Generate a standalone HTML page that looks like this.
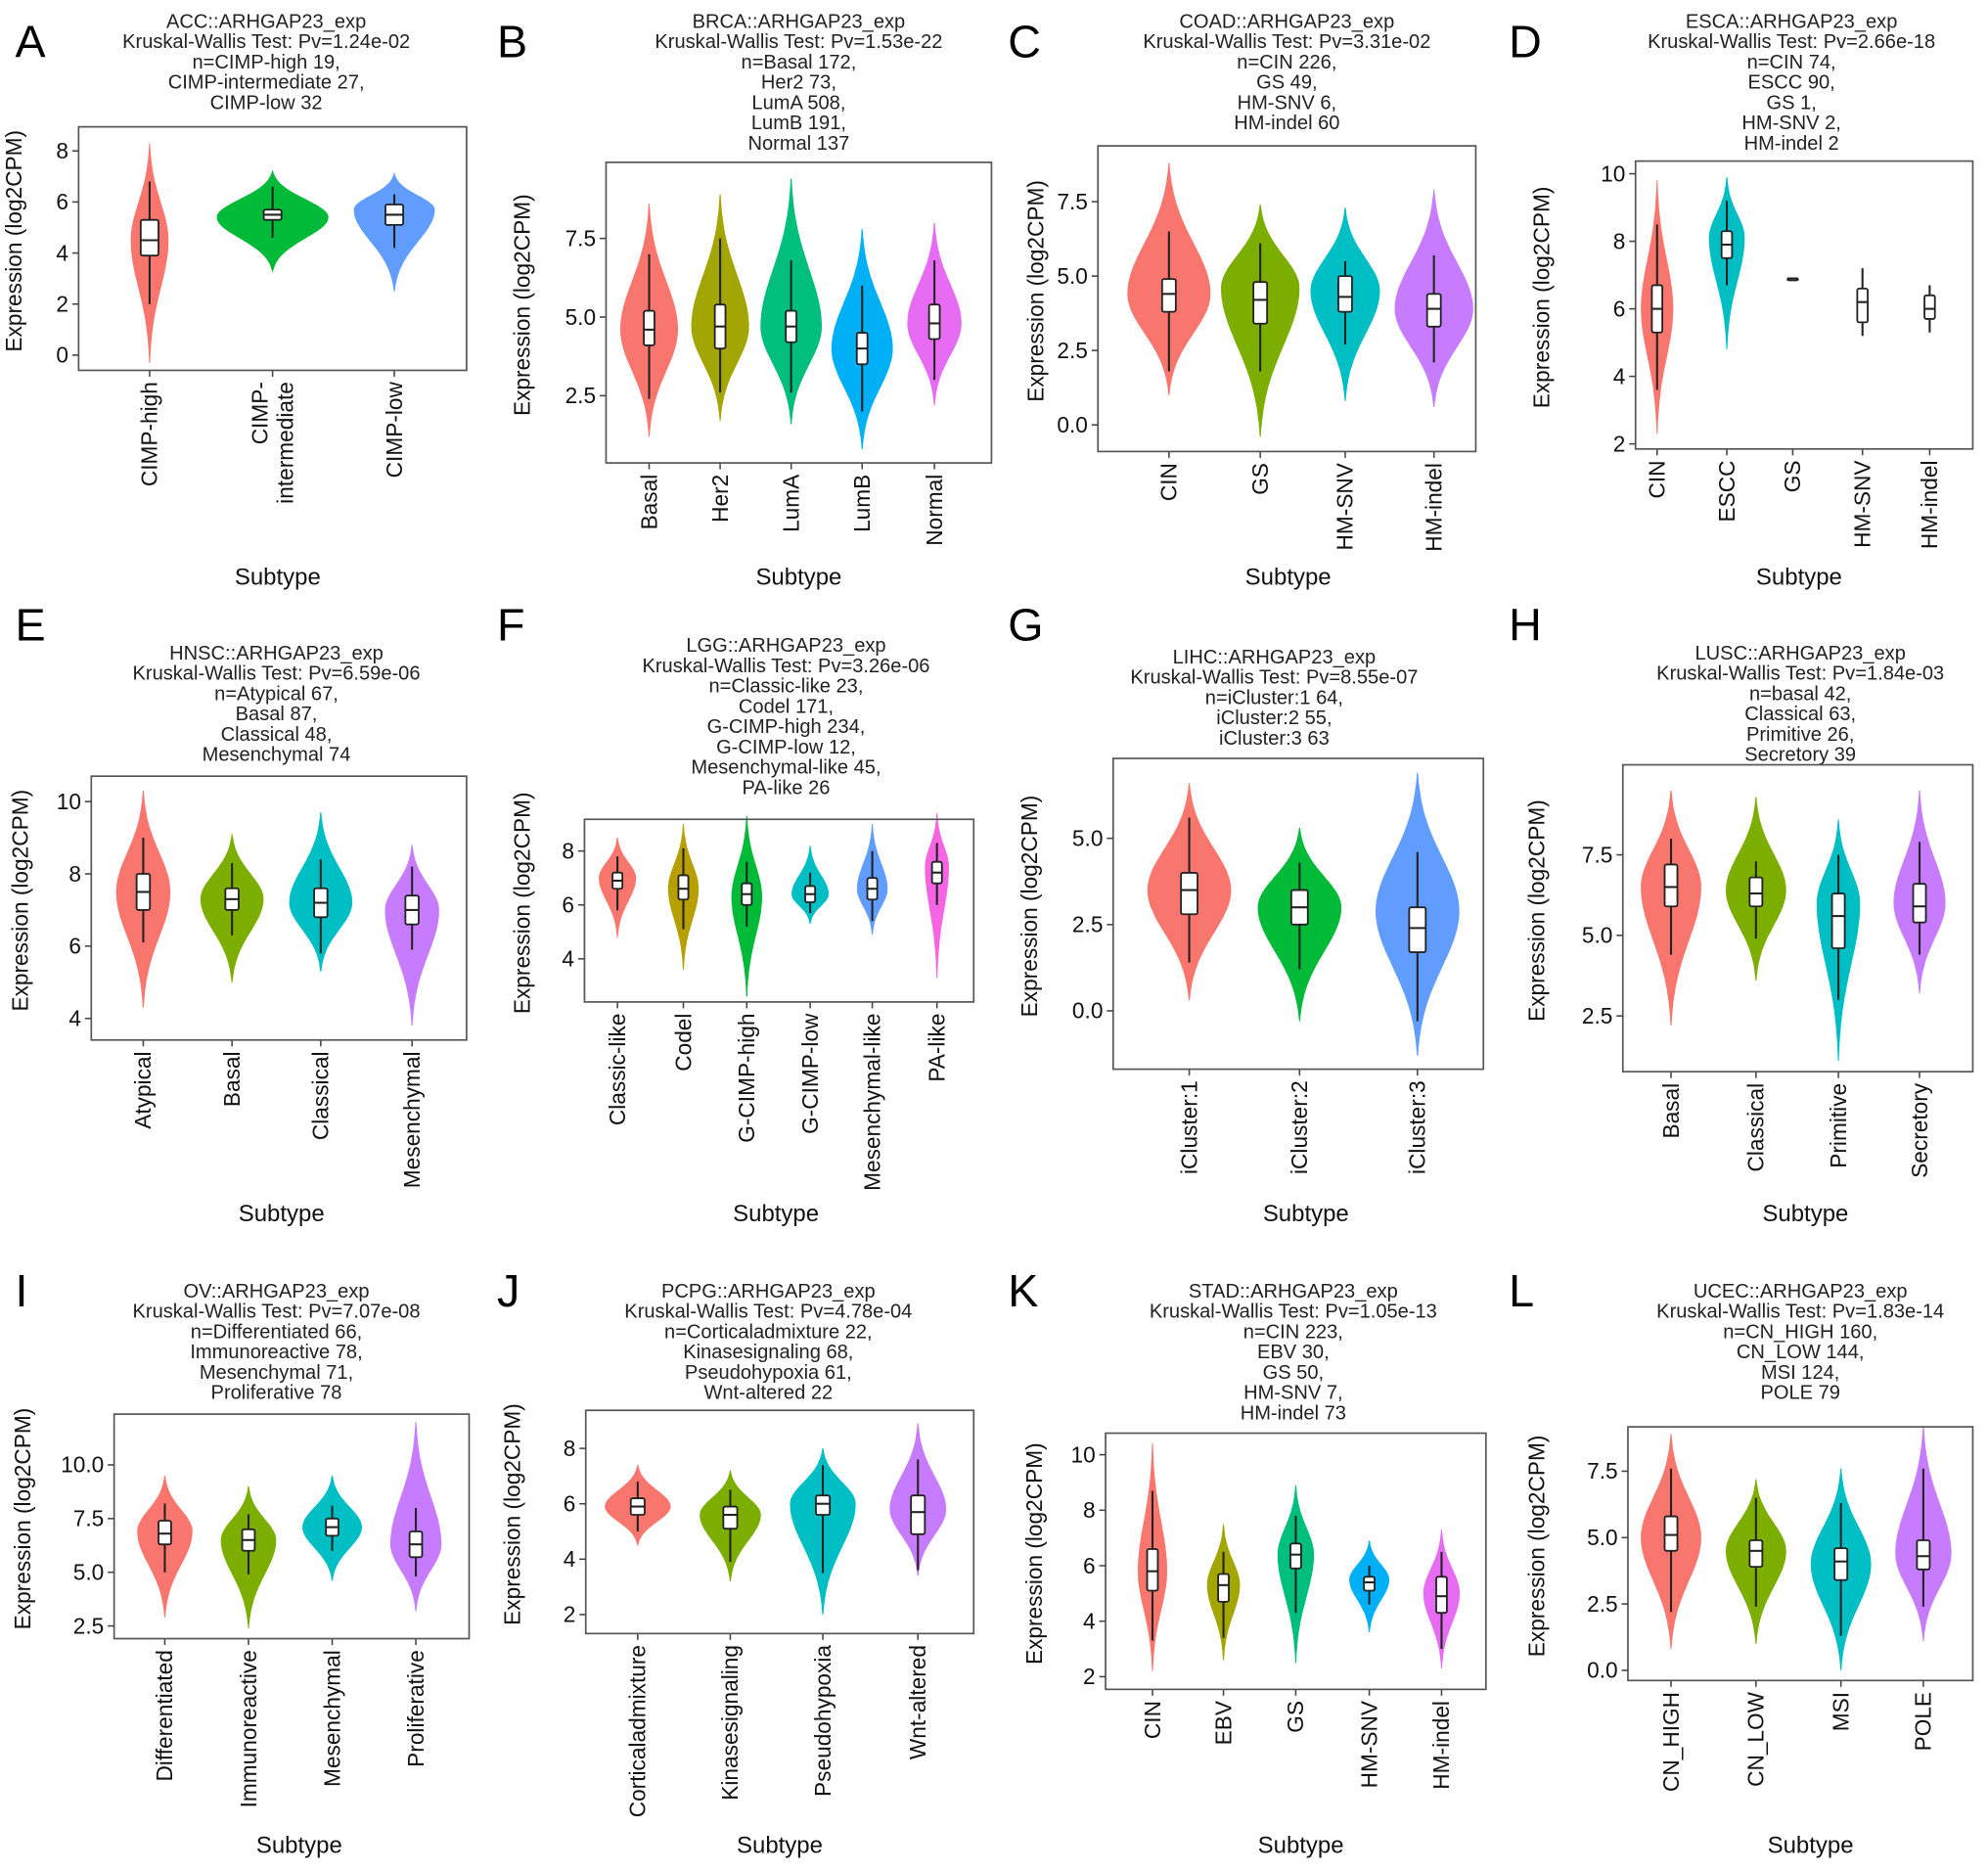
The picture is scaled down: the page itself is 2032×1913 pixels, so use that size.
<!DOCTYPE html>
<html><head><meta charset="utf-8"><style>
html,body{margin:0;padding:0;background:#fff;}
svg{display:block;font-family:"Liberation Sans",Arial,sans-serif;}
</style></head><body>
<svg id="fig" width="2032" height="1913" viewBox="0 0 1568 1476" preserveAspectRatio="none" xmlns="http://www.w3.org/2000/svg"></svg>
<script>
// ---------- Panel data (value arrays per panel) ----------
const A_cats=["CIMP-high","CIMP-|intermediate","CIMP-low"];
const A_med=[4.5,5.5,5.5], A_q1=[3.9,5.3,5.1], A_q3=[5.3,5.7,5.9], A_wlo=[2.0,4.6,4.2], A_whi=[6.8,6.6,6.3];
const A_vmin=[-0.3,3.3,2.5], A_vmax=[8.3,7.2,7.1], A_mode=[4.5,5.4,5.7], A_w=[0.3,0.9,0.65];
const A_ticks=[0,2,4,6,8];

const B_cats=["Basal","Her2","LumA","LumB","Normal"];
const B_med=[4.6,4.7,4.7,4.0,4.8], B_q1=[4.1,4.0,4.2,3.5,4.3], B_q3=[5.2,5.4,5.2,4.5,5.4], B_wlo=[2.4,2.6,2.6,2.0,3.0], B_whi=[7.0,7.5,6.8,6.0,6.8];
const B_vmin=[1.2,1.7,1.6,0.8,2.2], B_vmax=[8.6,8.9,9.4,7.8,8.0], B_mode=[4.6,4.7,4.7,4.0,4.8], B_w=[0.8,0.8,0.85,0.85,0.75];
const B_ticks=[2.5,5.0,7.5];

const C_cats=["CIN","GS","HM-SNV","HM-indel"];
const C_med=[4.4,4.2,4.3,3.9], C_q1=[3.8,3.4,3.8,3.3], C_q3=[4.9,4.8,5.0,4.4], C_wlo=[1.8,1.8,2.7,2.1], C_whi=[6.5,6.1,5.5,5.7];
const C_vmin=[1.0,-0.4,0.8,0.6], C_vmax=[8.8,7.4,7.3,7.9], C_mode=[4.4,4.6,4.5,3.9], C_w=[0.9,0.85,0.75,0.85];
const C_ticks=[0.0,2.5,5.0,7.5];

const D_cats=["CIN","ESCC","GS","HM-SNV","HM-indel"];
const D_med=[6.0,7.9,6.9,6.2,6.0], D_q1=[5.3,7.5,6.9,5.6,5.7], D_q3=[6.7,8.3,6.9,6.6,6.4], D_wlo=[3.6,6.7,6.9,5.2,5.3], D_whi=[8.5,9.2,6.9,7.2,6.7];
const D_vmin=[2.3,4.8,null,null,null], D_vmax=[9.8,9.9,null,null,null], D_mode=[6.0,8.1,6.9,6.2,6.0], D_w=[0.45,0.5,0,0,0];
const D_ticks=[2,4,6,8,10];

const E_cats=["Atypical","Basal","Classical","Mesenchymal"];
const E_med=[7.5,7.3,7.2,7.0], E_q1=[7.0,7.0,6.8,6.6], E_q3=[8.0,7.6,7.6,7.4], E_wlo=[6.1,6.3,5.8,5.9], E_whi=[9.0,8.3,8.4,8.2];
const E_vmin=[4.3,5.0,5.3,3.8], E_vmax=[10.3,9.1,9.7,8.8], E_mode=[7.5,7.3,7.2,7.0], E_w=[0.6,0.7,0.7,0.6];
const E_ticks=[4,6,8,10];

const F_cats=["Classic-like","Codel","G-CIMP-high","G-CIMP-low","Mesenchymal-like","PA-like"];
const F_med=[6.9,6.6,6.4,6.4,6.6,7.2], F_q1=[6.6,6.2,6.0,6.1,6.2,6.8], F_q3=[7.2,7.1,6.8,6.7,7.0,7.6], F_wlo=[5.8,5.1,5.2,5.7,5.4,6.0], F_whi=[7.8,8.1,7.6,7.2,8.0,8.3];
const F_vmin=[4.8,3.6,2.6,5.3,4.9,3.3], F_vmax=[8.5,9.0,9.3,8.2,9.0,9.4], F_mode=[7.0,6.6,6.3,6.4,6.6,7.4], F_w=[0.55,0.45,0.45,0.55,0.45,0.35];
const F_ticks=[4,6,8];

const G_cats=["iCluster:1","iCluster:2","iCluster:3"];
const G_med=[3.5,3.0,2.4], G_q1=[2.8,2.5,1.7], G_q3=[4.0,3.5,3.0], G_wlo=[1.4,1.2,-0.3], G_whi=[5.6,4.3,4.6];
const G_vmin=[0.3,-0.3,-1.3], G_vmax=[6.6,5.3,6.9], G_mode=[3.5,3.0,2.9], G_w=[0.75,0.75,0.75];
const G_ticks=[0.0,2.5,5.0];

const H_cats=["Basal","Classical","Primitive","Secretory"];
const H_med=[6.5,6.3,5.6,5.9], H_q1=[5.9,5.9,4.6,5.4], H_q3=[7.2,6.8,6.3,6.6], H_wlo=[4.4,4.9,3.0,4.4], H_whi=[8.0,7.3,7.5,7.9];
const H_vmin=[2.2,3.6,1.1,3.2], H_vmax=[9.5,9.3,8.6,9.5], H_mode=[6.5,6.4,6.0,6.0], H_w=[0.7,0.7,0.5,0.6];
const H_ticks=[2.5,5.0,7.5];

const I_cats=["Differentiated","Immunoreactive","Mesenchymal","Proliferative"];
const I_med=[6.8,6.5,7.1,6.3], I_q1=[6.3,6.0,6.7,5.7], I_q3=[7.4,7.0,7.5,6.9], I_wlo=[5.0,4.9,6.0,4.8], I_whi=[8.2,7.7,8.1,8.0];
const I_vmin=[2.9,2.4,4.6,3.2], I_vmax=[9.5,9.0,9.5,12.0], I_mode=[6.9,6.5,7.1,6.3], I_w=[0.65,0.65,0.7,0.6];
const I_ticks=[2.5,5.0,7.5,10.0];

const J_cats=["Corticaladmixture","Kinasesignaling","Pseudohypoxia","Wnt-altered"];
const J_med=[5.9,5.6,6.0,5.7], J_q1=[5.6,5.1,5.6,4.9], J_q3=[6.2,5.9,6.3,6.3], J_wlo=[5.0,3.9,3.5,3.6], J_whi=[6.8,6.5,7.4,7.6];
const J_vmin=[4.5,3.2,2.0,3.4], J_vmax=[7.4,7.2,8.0,8.9], J_mode=[5.9,5.6,6.0,5.8], J_w=[0.7,0.65,0.7,0.6];
const J_ticks=[2,4,6,8];

const K_cats=["CIN","EBV","GS","HM-SNV","HM-indel"];
const K_med=[5.8,5.3,6.4,5.4,4.9], K_q1=[5.1,4.7,5.9,5.1,4.3], K_q3=[6.6,5.7,6.8,5.6,5.6], K_wlo=[3.3,3.4,4.3,4.6,3.0], K_whi=[8.7,6.5,7.8,6.0,6.5];
const K_vmin=[2.2,2.6,2.5,3.6,2.3], K_vmax=[10.4,7.5,8.9,6.9,7.3], K_mode=[5.8,5.3,6.4,5.5,5.0], K_w=[0.4,0.45,0.5,0.55,0.5];
const K_ticks=[2,4,6,8,10];

const L_cats=["CN_HIGH","CN_LOW","MSI","POLE"];
const L_med=[5.1,4.5,4.1,4.3], L_q1=[4.5,3.9,3.4,3.8], L_q3=[5.8,4.9,4.6,4.9], L_wlo=[2.2,2.4,1.3,2.4], L_whi=[7.6,6.5,6.3,7.6];
const L_vmin=[0.8,1.0,0.0,1.1], L_vmax=[8.9,7.2,7.6,9.2], L_mode=[5.0,4.5,4.0,4.4], L_w=[0.7,0.7,0.7,0.65];
const L_ticks=[0.0,2.5,5.0,7.5];

// ---------- layout (not data) ----------
const H3=["#F8766D","#00BA38","#619CFF"];
const H4=["#F8766D","#7CAE00","#00BFC4","#C77CFF"];
const H5=["#F8766D","#A3A500","#00BF7D","#00B0F6","#E76BF3"];
const H6=["#F8766D","#B79F00","#00BA38","#00BFC4","#619CFF","#F564E3"];
const panels=[
 {id:"A",L:[12,45],title:["ACC::ARHGAP23_exp","Kruskal-Wallis Test: Pv=1.24e-02","n=CIMP-high 19,","CIMP-intermediate 27,","CIMP-low 32"],tx:210,ty:22,
  box:[62,100,368,292],t0:[0,280],t1:[8,119],cx:[118,215,311],col:H3,yt:17,sx:219,sy:455,d:"A",dec:0},
 {id:"B",L:[392,45],title:["BRCA::ARHGAP23_exp","Kruskal-Wallis Test: Pv=1.53e-22","n=Basal 172,","Her2 73,","LumA 508,","LumB 191,","Normal 137"],tx:630,ty:22,
  box:[478,128,782,365],t0:[2.5,312],t1:[7.5,188],cx:[512,568,624,680,737],col:H5,yt:418,sx:630,sy:455,d:"B",dec:1},
 {id:"C",L:[795,45],title:["COAD::ARHGAP23_exp","Kruskal-Wallis Test: Pv=3.31e-02","n=CIN 226,","GS 49,","HM-SNV 6,","HM-indel 60"],tx:1015,ty:22,
  box:[866,115,1164,356],t0:[0,335],t1:[7.5,159],cx:[922,994,1061,1131],col:H4,yt:823,sx:1016,sy:455,d:"C",dec:1},
 {id:"D",L:[1190,45],title:["ESCA::ARHGAP23_exp","Kruskal-Wallis Test: Pv=2.66e-18","n=CIN 74,","ESCC 90,","GS 1,","HM-SNV 2,","HM-indel 2"],tx:1413,ty:22,
  box:[1290,127,1556,354],t0:[2,350],t1:[10,137],cx:[1307,1362,1414,1469,1522],col:["#F8766D","#00BFC4","#00BF7D","#00B0F6","#E76BF3"],yt:1222,sx:1419,sy:455,d:"D",dec:0},
 {id:"E",L:[12,505],title:["HNSC::ARHGAP23_exp","Kruskal-Wallis Test: Pv=6.59e-06","n=Atypical 67,","Basal 87,","Classical 48,","Mesenchymal 74"],tx:218,ty:520,
  box:[72,612,368,820],t0:[4,803],t1:[10,632],cx:[113,183,253,325],col:H4,yt:22,sx:222,sy:957,d:"E",dec:0},
 {id:"F",L:[392,505],title:["LGG::ARHGAP23_exp","Kruskal-Wallis Test: Pv=3.26e-06","n=Classic-like 23,","Codel 171,","G-CIMP-high 234,","G-CIMP-low 12,","Mesenchymal-like 45,","PA-like 26"],tx:620,ty:514,
  box:[461,646,768,790],t0:[4,756],t1:[8,671],cx:[487,539,589,639,688,739],col:H6,yt:418,sx:612,sy:957,d:"F",dec:0},
 {id:"G",L:[795,505],title:["LIHC::ARHGAP23_exp","Kruskal-Wallis Test: Pv=8.55e-07","n=iCluster:1 64,","iCluster:2 55,","iCluster:3 63"],tx:1005,ty:523,
  box:[878,598,1170,843],t0:[0,797],t1:[5,661],cx:[938,1025,1118],col:H3,yt:818,sx:1030,sy:957,d:"G",dec:1},
 {id:"H",L:[1190,505],title:["LUSC::ARHGAP23_exp","Kruskal-Wallis Test: Pv=1.84e-03","n=basal 42,","Classical 63,","Primitive 26,","Secretory 39"],tx:1420,ty:520,
  box:[1280,603,1556,845],t0:[2.5,801],t1:[7.5,674],cx:[1318,1385,1450,1514],col:H4,yt:1218,sx:1424,sy:957,d:"H",dec:1},
 {id:"I",L:[12,1030],title:["OV::ARHGAP23_exp","Kruskal-Wallis Test: Pv=7.07e-08","n=Differentiated 66,","Immunoreactive 78,","Mesenchymal 71,","Proliferative 78"],tx:218,ty:1023,
  box:[90,1115,370,1292],t0:[2.5,1282],t1:[10,1155],cx:[130,196,262,328],col:H4,yt:24,sx:236,sy:1455,d:"I",dec:1},
 {id:"J",L:[392,1030],title:["PCPG::ARHGAP23_exp","Kruskal-Wallis Test: Pv=4.78e-04","n=Corticaladmixture 22,","Kinasesignaling 68,","Pseudohypoxia 61,","Wnt-altered 22"],tx:606,ty:1023,
  box:[462,1112,768,1288],t0:[2,1273],t1:[8,1142],cx:[503,576,649,724],col:H4,yt:410,sx:615,sy:1455,d:"J",dec:0},
 {id:"K",L:[795,1030],title:["STAD::ARHGAP23_exp","Kruskal-Wallis Test: Pv=1.05e-13","n=CIN 223,","EBV 30,","GS 50,","HM-SNV 7,","HM-indel 73"],tx:1020,ty:1023,
  box:[872,1130,1172,1332],t0:[2,1322],t1:[10,1147],cx:[909,965,1022,1080,1137],col:H5,yt:822,sx:1026,sy:1455,d:"K",dec:0},
 {id:"L",L:[1190,1030],title:["UCEC::ARHGAP23_exp","Kruskal-Wallis Test: Pv=1.83e-14","n=CN_HIGH 160,","CN_LOW 144,","MSI 124,","POLE 79"],tx:1420,ty:1023,
  box:[1284,1125,1556,1325],t0:[0,1317],t1:[7.5,1160],cx:[1318,1385,1452,1517],col:H4,yt:1218,sx:1428,sy:1455,d:"L",dec:1}
];
const DATA={A:[A_cats,A_med,A_q1,A_q3,A_wlo,A_whi,A_vmin,A_vmax,A_mode,A_w,A_ticks],
B:[B_cats,B_med,B_q1,B_q3,B_wlo,B_whi,B_vmin,B_vmax,B_mode,B_w,B_ticks],
C:[C_cats,C_med,C_q1,C_q3,C_wlo,C_whi,C_vmin,C_vmax,C_mode,C_w,C_ticks],
D:[D_cats,D_med,D_q1,D_q3,D_wlo,D_whi,D_vmin,D_vmax,D_mode,D_w,D_ticks],
E:[E_cats,E_med,E_q1,E_q3,E_wlo,E_whi,E_vmin,E_vmax,E_mode,E_w,E_ticks],
F:[F_cats,F_med,F_q1,F_q3,F_wlo,F_whi,F_vmin,F_vmax,F_mode,F_w,F_ticks],
G:[G_cats,G_med,G_q1,G_q3,G_wlo,G_whi,G_vmin,G_vmax,G_mode,G_w,G_ticks],
H:[H_cats,H_med,H_q1,H_q3,H_wlo,H_whi,H_vmin,H_vmax,H_mode,H_w,H_ticks],
I:[I_cats,I_med,I_q1,I_q3,I_wlo,I_whi,I_vmin,I_vmax,I_mode,I_w,I_ticks],
J:[J_cats,J_med,J_q1,J_q3,J_wlo,J_whi,J_vmin,J_vmax,J_mode,J_w,J_ticks],
K:[K_cats,K_med,K_q1,K_q3,K_wlo,K_whi,K_vmin,K_vmax,K_mode,K_w,K_ticks],
L:[L_cats,L_med,L_q1,L_q3,L_wlo,L_whi,L_vmin,L_vmax,L_mode,L_w,L_ticks]};

const NS="http://www.w3.org/2000/svg";
const svg=document.getElementById("fig");
function mk(tag,attrs,parent,text){const e=document.createElementNS(NS,tag);for(const k in attrs)e.setAttribute(k,attrs[k]);if(text!==undefined)e.textContent=text;(parent||svg).appendChild(e);return e;}

panels.forEach(p=>{
  const [cats,med,q1,q3,wlo,whi,vmin,vmax,mode,wf,ticks]=DATA[p.d];
  const g=mk("g",{});
  
  
  const y=v=>p.t0[1]+(v-p.t0[0])*(p.t1[1]-p.t0[1])/(p.t1[0]-p.t0[0]);
  const [bx0,by0,bx1,by1]=p.box;
  const sp=cats.length>1?(p.cx[1]-p.cx[0]):100;
  const lt=mk("text",{x:p.L[0],y:p.L[1],"font-size":36,fill:"#000"},g,p.id);
  
  
  const tt=mk("text",{x:p.tx,"text-anchor":"middle","font-size":15.5,fill:"#222"},g);
  
  
  p.title.forEach((s,i)=>mk("tspan",{x:p.tx,y:p.ty+i*16},tt,s));
  cats.forEach((c,i)=>{
    const cx=p.cx[i];
    if(vmin[i]!==null&&wf[i]>0){
      const hw=wf[i]*sp*0.5,N=60,pts=[],sl=(mode[i]-vmin[i])/2.6,su=(vmax[i]-mode[i])/2.6;
      for(let k=0;k<=N;k++){const v=vmin[i]+(vmax[i]-vmin[i])*k/N;const s=v<mode[i]?sl:su;const d=(v-mode[i])/s;const w=hw*Math.max(0,Math.exp(-d*d/2)-0.034)/0.966;pts.push([w,y(v)]);}
      let dstr="M"+pts.map(q=>(cx+q[0]).toFixed(1)+","+q[1].toFixed(1)).join("L");
      dstr+="L"+pts.slice().reverse().map(q=>(cx-q[0]).toFixed(1)+","+q[1].toFixed(1)).join("L")+"Z";
      const vp=mk("path",{d:dstr,fill:p.col[i],stroke:p.col[i],"stroke-width":0.8},g);
      
      
    }
    const bw=Math.min(14,sp*0.15);
    const wl=mk("line",{x1:cx,x2:cx,y1:y(wlo[i]),y2:y(whi[i]),stroke:"#222","stroke-width":1.6},g);
    
    
    const bh=Math.max(1.5,y(q1[i])-y(q3[i]));
    const br=mk("rect",{x:cx-bw/2,y:y(q3[i]),width:bw,height:bh,fill:"#fff",stroke:"#222","stroke-width":1.4,rx:1.5},g);
    
    
    const ml=mk("line",{x1:cx-bw/2,x2:cx+bw/2,y1:y(med[i]),y2:y(med[i]),stroke:"#222","stroke-width":1.6},g);
    
    
    mk("line",{x1:cx,x2:cx,y1:by1,y2:by1+5,stroke:"#444","stroke-width":1.2},g);
    const parts=c.split("|");
    parts.forEach((s,j)=>{
      const lx=cx+6+(j-(parts.length-1)/2)*20,ly=by1+9;
      const xl=mk("text",{x:lx,y:ly,"font-size":17.5,fill:"#111","text-anchor":"end",transform:`rotate(-90 ${lx} ${ly})`},g,s);
      
      
    });
  });
  const fr=mk("rect",{x:bx0,y:by0,width:bx1-bx0,height:by1-by0,fill:"none",stroke:"#555","stroke-width":1.3},g);
  
  
  ticks.forEach(t=>{
    const yy=y(t);
    mk("line",{x1:bx0-5,x2:bx0,y1:yy,y2:yy,stroke:"#444","stroke-width":1.2},g);
    const lab=t.toFixed(p.dec);
    const tl=mk("text",{x:bx0-8,y:yy+6,"font-size":17.5,fill:"#111","text-anchor":"end"},g,lab);
    
    
  });
  const cy=(by0+by1)/2;
  const yt=mk("text",{x:p.yt+6,y:cy,"font-size":17.5,fill:"#111","text-anchor":"middle",transform:`rotate(-90 ${p.yt} ${cy})`},g,"Expression (log2CPM)");
  
  
  const xt=mk("text",{x:p.sx,y:p.sy+6,"font-size":18.5,fill:"#111","text-anchor":"middle"},g,"Subtype");
  
  
});
</script>
</body></html>
